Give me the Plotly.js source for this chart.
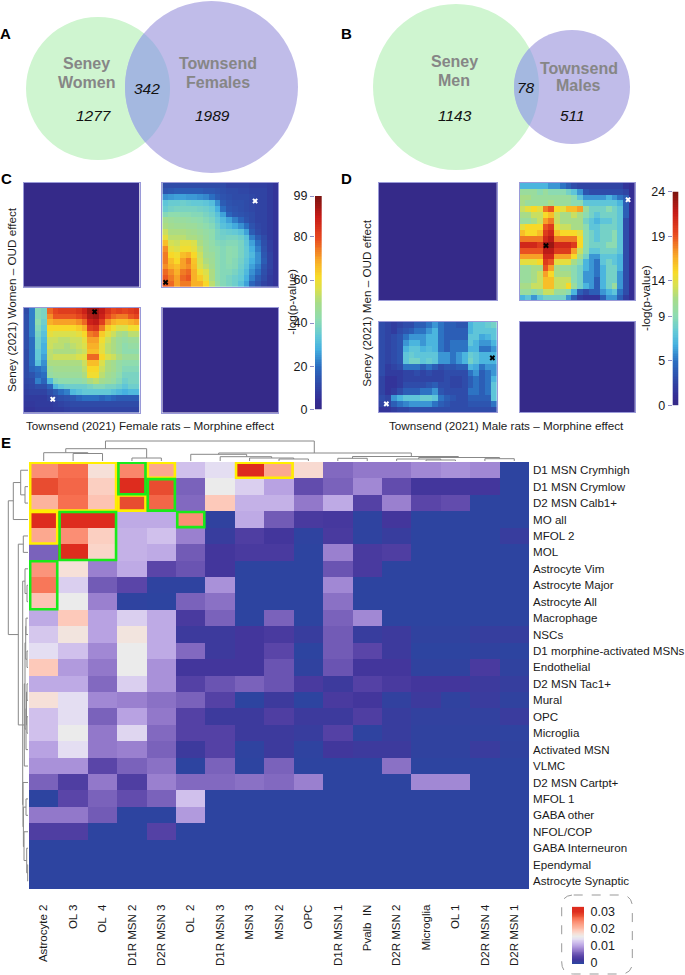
<!DOCTYPE html>
<html><head><meta charset="utf-8">
<script src="https://cdn.plot.ly/plotly-3.0.1.min.js"></script>
<style>html,body{margin:0;padding:0;background:#fff}#chart{width:685px;height:975px}</style>
</head><body><div id="chart"></div>
<script>
// ---------- Panel E data ----------
const rowLabels = ["D1 MSN Crymhigh","D1 MSN Crymlow","D2 MSN Calb1+","MO all","MFOL 2","MOL","Astrocyte Vim","Astrocyte Major","Astrocyte All","Macrophage","NSCs","D1 morphine-activated MSNs","Endothelial","D2 MSN Tac1+","Mural","OPC","Microglia","Activated MSN","VLMC","D2 MSN Cartpt+","MFOL 1","GABA other","NFOL/COP","GABA Interneuron","Ependymal","Astrocyte Synaptic"];
const colLabels = ["Astrocyte 2","OL 3","OL\u00A0 4","D1R MSN 2","D2R MSN 3","OL\u00A0 2","D1R MSN 3","MSN 3","MSN 2","OPC","D1R MSN 1","Pvalb\u00A0 IN","D2R MSN 2","Microglia","OL 1","D2R MSN 4","D2R MSN 1"];
// overlap scores, in thousandths
const overlapMilli = [
[24,26,17,24.5,22,12,14,30,22,17.5,6.5,7.5,7.5,8.5,9,8.5,0],
[28,26.5,18.5,30,28,6,15.5,13,10,4.5,6,8.5,4.5,2,2,2,0],
[21,26,19.5,28,26.5,6.5,19,11,11,7.5,10.5,3.5,8,4,4.5,0,0],
[30,30,30,10.5,10.5,24,0.3,10.5,5.5,2.5,2.3,0.2,2,0,0,0,0],
[22,24,18.5,11,12,8,1,3,2,0.2,2.5,0.2,1,0,0,0,1],
[6,30,18,11,10.5,5.5,2,2.5,2.5,0,8,2.5,3,0,0,0,0],
[23.5,17,8,10.5,4,5,2,0,0,0,5,2.5,0,0,0,0,0],
[25.5,13,5.5,4,0.2,0.2,9,0,0,0,8.5,0,0,0,0,0,0],
[19.5,15.5,8,0.2,0,6,7,0,0,0,7,0,0,0,0,0,0],
[10.5,19,10,13,10.5,2.5,6,0,6,0,6,8.5,0,0,0,0,0],
[12.5,16.5,10,16.5,10.5,1.5,1.5,2,2.5,1,5.5,1,1.5,0.3,0.3,0.8,0.8],
[14,12,8.5,15.5,10.5,6.5,1.5,2,4,0,5.5,4,1.5,0,0,0.3,0],
[19,9.5,7.5,15.5,9,2,2,2,5,0.3,5,2,2,0.3,0.3,2.5,0.3],
[10.5,10.5,6.5,13,9,3.5,5,6,5,2.5,1.5,3.5,2.5,2,2,1.5,0.8],
[17,14,8.5,8,7,6,3.5,0,1.5,0,2.5,2,0.5,1.5,0.3,1.2,0.3],
[12,14,6,10,7.5,3.5,1.5,1.5,3,1.5,1.5,3,1,0.5,0.5,0.5,1.2],
[12,15.5,7.5,13.5,6.5,3.5,3.5,1.5,1.5,1,3.5,0.2,1,0.3,0.3,0.3,0.2],
[10,14,7.5,8,6,1.5,3.5,0.2,1.5,0.2,1.8,1.5,1.5,0.3,0.3,1.2,0.3],
[9,9,4,6,7,0,6,0,6,0,0,0,7,0,0,0,0],
[6,3,7.5,3,8,6.5,6.5,7,6.5,8,0,0,0,8.5,8.5,0,0],
[0,4,6,4.5,6,12,0,0,0,0,0,0,0,0,0,0,0],
[7.5,7.5,5.5,0,0,9.5,0,0,0,0,0,0,0,0,0,0,0],
[3,3,0,0,3.5,0,0,0,0,0,0,0,0,0,0,0,0],
[0,0,0,0,0,0,0,0,0,0,0,0,0,0,0,0,0],
[0,0,0,0,0,0,0,0,0,0,0,0,0,0,0,0,0],
[0,0,0,0,0,0,0,0,0,0,0,0,0,0,0,0,0]];
// highlighted cells: first col, last col, first row, last row
const yellowBoxes = [[0,2,0,2],[3,3,2,2],[4,4,0,0],[0,0,3,4],[7,8,0,0]];
const greenBoxes = [[3,3,0,1],[4,4,1,2],[1,2,3,5],[5,5,3,3],[0,0,6,8]];
// dendrograms: low leaf, high leaf, merge height, base height low, base height high
const colDendro = [[1,2,8.5,1,1],[0,1.5,9.3,1,8.5],[3,4,4,1,1],[0.75,3.5,13.3,9.3,4],[2.1,9.2,21,13.3,9],[8,9,3,1,1],[7,8.5,4,1,3],[6,7.75,5.3,1,4],[5,6.9,7.7,1,5.3],[10,11,3.7,1,1],[15,16,3.3,1,1],[13,14,2,1,1],[12,13.5,3,1,2],[12.75,15.5,4.5,3,3.3],[10.5,14.1,5.5,3.7,4.5],[5.95,12.5,9,7.7,5.5]];
const rowDendro = [[1,2,4,1,1],[0,1.5,8.3,1,4],[0.75,3,15.7,8.3,1],[1.86,10,20.7,15.7,10.7],[4,5,5.7,1,1],[4.5,15.5,10.7,5.7,6.3],[7,8,2,1,1],[6,7.5,4,1,2],[6.75,15.5,6.3,4,6.3],[9,10,3,1,1],[11,12,2,1,1],[9.5,11.5,3.3,3,2],[13,14,2,1,1],[15,16,2,1,1],[13.5,15.5,2.5,2,2],[14.5,17,3,2.5,1],[10.5,15.75,4,3.3,3],[13,18,4.7,4,1],[15.5,20.35,6.3,4.7,6],[20,21,3,1,1],[24,25,1.3,1,1],[23,24.5,2.3,1,1.3],[22,23.75,5,1,2.3],[20.5,22.9,5.6,3,5],[19,21.7,6,1,5.6]];
const overlapTicks = [0,0.01,0.02,0.03];
const overlapTickText = ["0","0.01","0.02","0.03"];

// ---------- Panels C, D data: -log(p) per quadrant ----------
const womenUpRight = [
[12,12,12,12,12,12,12,12,12,12,12,10,10,10,10,9,9,9,8,6],
[14,15,16,16,16,16,16,15,15,14,13,12,12,11,11,10,10,10,8,6],
[24,25,26,26,25,25,24,23,20,16,14,13,12,12,12,11,10,10,8,6],
[33,35,35,36,35,34,34,33,31,24,16,14,13,13,12,11,10,10,8,6],
[35,37,38,38,38,38,37,36,34,28,20,15,14,13,12,11,10,10,8,6],
[40,42,42,41,41,40,40,38,36,32,26,18,15,14,13,12,10,10,8,6],
[48,46,45,45,44,43,42,40,38,34,30,26,22,18,14,12,10,10,8,6],
[50,48,47,47,46,46,44,42,40,36,32,30,27,24,20,14,11,10,8,6],
[54,50,50,50,49,48,46,44,42,38,36,35,34,32,26,16,12,10,8,6],
[58,52,52,52,50,50,48,45,42,38,37,38,38,36,32,22,16,12,8,6],
[66,55,54,58,58,56,50,46,43,40,39,40,40,38,33,26,20,13,9,6],
[72,58,56,60,60,58,52,47,44,42,40,42,41,38,34,28,22,14,9,6],
[74,62,60,66,68,62,54,48,46,42,40,42,41,38,34,30,24,15,10,6],
[74,66,62,70,74,65,55,50,47,42,40,42,40,37,33,28,24,16,10,6],
[72,68,66,70,72,66,56,52,48,42,40,41,40,36,32,26,22,14,10,6],
[76,72,68,74,76,68,60,56,50,42,40,40,38,35,30,24,20,13,9,6],
[78,74,70,76,78,68,64,58,50,42,40,38,36,34,28,22,16,12,8,6],
[78,76,70,74,74,68,68,62,52,44,40,38,36,32,26,18,14,10,8,6]];
const womenLowLeft = [
[12,22,40,38,76,80,82,82,82,84,88,94,94,90,84,80,82,80,82,84],
[13,22,40,38,72,78,78,78,78,80,84,92,94,88,80,76,74,74,78,80],
[13,22,42,36,68,70,70,70,70,72,76,88,90,82,72,68,66,66,68,70],
[13,22,40,34,62,62,62,62,62,64,68,82,84,74,64,60,56,56,60,60],
[13,22,38,32,58,56,56,56,56,58,62,74,76,64,58,54,50,48,52,52],
[13,20,36,30,54,54,52,52,54,54,58,70,70,60,54,50,46,44,46,46],
[13,20,36,28,54,52,52,50,52,54,56,68,68,58,52,50,46,42,44,44],
[12,20,34,28,52,50,50,50,50,52,54,66,66,58,52,50,46,42,42,42],
[12,20,34,26,52,54,54,54,54,56,58,76,76,62,56,54,50,46,46,46],
[12,20,32,24,50,50,50,50,50,50,54,66,66,56,50,48,44,42,42,42],
[12,18,20,22,46,48,48,48,48,48,52,62,62,54,50,48,44,40,40,40],
[12,14,18,20,44,46,46,46,46,46,50,60,60,52,48,46,42,38,38,38],
[11,12,22,18,30,40,42,42,42,42,44,50,52,48,46,44,40,36,38,38],
[10,11,13,13,18,30,34,36,36,36,36,38,40,40,38,38,36,33,36,36],
[9,10,10,10,13,16,20,22,30,32,34,34,34,34,34,32,30,28,30,30],
[8,8,8,8,10,12,13,14,15,18,20,20,20,18,20,18,16,16,16,16],
[7,7,8,8,8,9,10,11,12,12,12,12,12,12,12,12,12,12,12,12],
[6,6,7,7,7,8,8,9,10,10,10,10,10,10,10,10,10,10,10,10]];
const menUpRight = [
[7,7,7,7,7,6,6,5,4,3,2.5,2.5,2.5,2.5,2.5,2.5,2.5,2.5,1.5,1],
[11,11,11,10,11,10,10,10,9,8,6,3.5,3,3,3,3,3,3,2.5,1],
[12,12,11,11,11,11,11,11,11,10,8,6,6,6,6,7,6,5,4,1],
[12,11,11,11,11,12,11,11,11,10,10,8,8,8,8,8,8,7,4,1],
[13,14,15,14,18,19,15,14,16,16,17,11,9,9,9,10,9,8,4,1],
[12,12,13,13,15,16,13,12,12,13,12,10,9,8,9,9,9,8,4,1],
[11,11,12,13,17,18,13,12,12,12,12,9,8,7,8,8,9,8,3,1],
[14,15,15,15,19,20,14,13,13,12,12,10,8,8,9,9,9,8,3,1],
[16,15,15,16,20,21,16,15,15,15,14,10,9,8,9,9,10,8,3,1],
[18,18,18,18,21,22,18,18,18,18,15,10,9,8,9,9,10,8,3,1],
[21,21,21,20,23,23,21,21,21,20,15,10,9,9,9,10,10,8,3,1],
[19,19,19,19,22,22,20,20,20,17,13,10,8,8,9,9,9,8,3,1],
[17,17,17,17,21,21,17,17,17,15,12,9,6,6,8,8,8,7,3,1],
[14,14,14,15,20,19,14,14,14,12,10,7,6,5,8,9,8,7,3,1],
[11,11,12,12,19,17,12,11,11,10,9,7,6,5,7,9,9,7,3,1],
[11,11,12,13,17,15,12,12,12,10,9,6,6,5,7,9,9,6,3,1],
[11,11,12,13,16,16,13,13,13,10,9,6,6,4,7,9,9,6,3,1],
[12,12,13,13,16,16,13,13,15,11,9,7,6,4,7,9,11,6,3,1],
[11,11,10,11,13,13,11,11,10,7,4,3,4,4,6,7,8,5,3,1],
[7,8,6,8,9,9,9,9,6,4,2,1.5,1.5,1.5,4,6,6,4,2,1]];
const menLowLeft = [
[3,2.5,2,2.5,3,3,4,4,5,6,5,4,4,3.5,3.5,7,8,8,8.5,9],
[3,2.5,2,3,3.5,4,5,5,6,7,5,4,4,4,4,7,8,8,8,8],
[3,2.5,3,3.5,5,6,6,6,7,7,5,4,4,4,4,8,8,6.5,7,8],
[3,2.5,3,3.5,6,7,7,6,7,7,5,4,5,5,5,8,7,6,6,7],
[3,2.5,3,3.5,7,8,8,7,7.5,7,5,4,5,5,5,7,7,5,5,6],
[3,2.5,3,3.5,8,8.5,8,8,8,8,6,6,5,6,7,8.5,8,7,7,7],
[3,2.5,3,3.5,8,9,9,8,8.5,8,6,6,5,6,7,9,8,7,7,7],
[3,2,2.5,3,5,5,5,4,5,4,3,3.5,3.5,4,4,7,6.5,5,6,6],
[3,2,2,2,2.5,2.5,3,2.5,3,2.5,2.5,3,3,3,3,5,6,4,5,6],
[2.5,1.5,1.5,2,2.5,2.5,2.5,2.5,2.5,2.5,2.5,3,2.5,2.5,3,4,5,4,5,7],
[2.5,1.5,1.5,2,3,3,3,3,3.5,4,3,3,2.5,2.5,3,4,5,4,5,8],
[2.5,1.5,2,3,4,4,4,5,5,6,3.5,3,3,3,3,5,5,4,5,8],
[3,2.5,6,7,8,8,8,8.5,8.5,8,5,4,3.5,3,3,4,4,4,4,8],
[2.5,2.5,4,5,5.5,6,6,6,6,5,4,3.5,3,3,3,3.5,3.5,3.5,3.5,5],
[1.5,1.5,2,2.5,2.5,3,3,3,3,3,3,3,3,3,3,3,3,3,3,3]];
const emptyWomen = [[0.6,0.6],[0.6,0.6]];
const emptyMen = [[0.15,0.15],[0.15,0.15]];
const womenUpMarks = {blackX:[0.07],blackY:[16.7],whiteX:[15.5],whiteY:[2.66]};
const womenLowMarks = {blackX:[11.76],blackY:[0.19],whiteX:[4.54],whiteY:[15.2]};
const menUpMarks = {blackX:[4.07],blackY:[10.2],whiteX:[18.3],whiteY:[2.4]};
const menLowMarks = {blackX:[18.76],blackY:[5.5],whiteX:[0.75],whiteY:[13.1]};
const womenTicks = [0,20,40,60,80,99];
const menTickVals = [0,5,10,14,19,24];
const menTickText = ["0","5","9","14","19","24"];

// ---------- Panels A, B text ----------
const vennSets = ["Seney Women","Townsend Females","Seney Men","Townsend Males"];
const vennCounts = ["1277","342","1989","1143","78","511"];

// ---------- Styling / layout ----------
const W = 685, H = 975, FONT = '"Liberation Sans", Arial, sans-serif';
const jet = [[0,'#352a87'],[.04,'#342c94'],[.12,'#2f4aa8'],[.2,'#2a6cc0'],[.28,'#45b0e0'],[.34,'#62c8d8'],[.42,'#8edcb0'],[.5,'#a8dc88'],[.56,'#d8e050'],[.62,'#f8dc28'],[.7,'#f8a828'],[.8,'#e84a20'],[.9,'#c81c18'],[1,'#7a1410']];
const bwr = [[0,'#2d44a0'],[.067,'#43369c'],[.133,'#5a45a8'],[.2,'#7a62bb'],[.267,'#9a80cf'],[.333,'#b8a2e2'],[.4,'#d0c0ec'],[.467,'#e4def2'],[.517,'#ebebeb'],[.567,'#f6e0d8'],[.633,'#fdc9ba'],[.733,'#fca88f'],[.8,'#fb8e74'],[.867,'#f76f50'],[.933,'#e84c30'],[1,'#de2c1e']];
const vennGreen = '#cff5d0', vennPurple = '#c0bce9', vennLens = '#a4b8e0';
const circles = {aGreen:[98,88.5,72,71.5],aPurple:[211.5,87,86.5,86],bGreen:[456,87,83,83],bPurple:[572,87,58,57]};

const traces = [], shapes = [], annotations = [];
const layout = {width:W,height:H,margin:{l:0,r:0,t:0,b:0,pad:0},paper_bgcolor:'#fff',plot_bgcolor:'rgba(0,0,0,0)',showlegend:false,font:{family:FONT,size:12,color:'#111'},shapes,annotations};
let axN = 0;
function addAxes(px0,px1,py0,py1,xo,yo){
  axN++;
  const s = axN===1?'':axN;
  const hidden = {visible:false,fixedrange:true};
  layout['xaxis'+s] = Object.assign({},hidden,{domain:[px0/W,px1/W],anchor:'y'+s},xo);
  layout['yaxis'+s] = Object.assign({},hidden,{domain:[1-py1/H,1-py0/H],anchor:'x'+s},yo);
  return {x:'x'+s,y:'y'+s};
}
// Full-page overlay in pixel units for the Venn discs and free text
const page = addAxes(0,W,0,H,{range:[0,W]},{range:[H,0]});
function txt(px,py,text,o){
  annotations.push(Object.assign({xref:'paper',yref:'paper',x:px/W,y:1-py/H,text,showarrow:false,xanchor:'center',yanchor:'middle',font:{family:FONT,size:12,color:'#111'}},o||{}));
}
function disc(c,fill){
  shapes.push({type:'circle',xref:page.x,yref:page.y,x0:c[0]-c[2],x1:c[0]+c[2],y0:c[1]-c[3],y1:c[1]+c[3],fillcolor:fill,line:{width:0},layer:'below'});
}
function lens(a,b){
  const inE=(p,e)=>((p[0]-e[0])/e[2])**2+((p[1]-e[1])/e[3])**2<=1, pts=[];
  for(let i=0;i<720;i++){const t=i*Math.PI/360;
    const pa=[a[0]+a[2]*Math.cos(t),a[1]+a[3]*Math.sin(t)], pb=[b[0]+b[2]*Math.cos(t),b[1]+b[3]*Math.sin(t)];
    if(inE(pa,b))pts.push(pa); if(inE(pb,a))pts.push(pb);}
  const cx=pts.reduce((s,p)=>s+p[0],0)/pts.length, cy=pts.reduce((s,p)=>s+p[1],0)/pts.length;
  pts.sort((p,q)=>Math.atan2(p[1]-cy,p[0]-cx)-Math.atan2(q[1]-cy,q[0]-cx));
  shapes.push({type:'path',xref:page.x,yref:page.y,path:'M'+pts.map(p=>p[0].toFixed(2)+','+p[1].toFixed(2)).join('L')+'Z',fillcolor:vennLens,line:{width:0},layer:'below'});
}
disc(circles.aGreen,vennGreen);disc(circles.aPurple,vennPurple);lens(circles.aGreen,circles.aPurple);
disc(circles.bGreen,vennGreen);disc(circles.bPurple,vennPurple);lens(circles.bGreen,circles.bPurple);
const setFont={family:FONT,size:16,color:'#868686',weight:700}, numFont={family:FONT,size:15.5,color:'#111',style:'italic'};
function twoLine(s){const i=s.indexOf(' ');return [s.slice(0,i),s.slice(i+1)];}
[[0,86,63,82],[1,217.5,63,82],[2,454,62,81],[3,578.5,68,86]].forEach(([k,x,y1,y2])=>{
  const p=twoLine(vennSets[k]); txt(x,y1,p[0],{font:setFont}); txt(x,y2,p[1],{font:setFont});
});
[[0,94,115],[1,146.6,89],[2,212,115],[3,455,116],[4,526,87],[5,572,116]].forEach(([k,x,y])=>txt(x,y,vennCounts[k],{font:numFont}));
[['A',5,33],['B',346,33],['C',6,178],['D',346,179],['E',6,442]].forEach(([t,x,y])=>txt(x,y,t,{font:{family:FONT,size:15,color:'#000',weight:700}}));

// Rank-rank quadrants
function quad(z,px0,px1,py0,py1,zmax,marks){
  const a = addAxes(px0,px1,py0,py1,
    {visible:true,showticklabels:false,ticks:'',showgrid:false,zeroline:false,showline:true,mirror:true,linecolor:'#9a9ad8',linewidth:1,range:[-0.5,z[0].length-0.5]},
    {visible:true,showticklabels:false,ticks:'',showgrid:false,zeroline:false,showline:true,mirror:true,linecolor:'#9a9ad8',linewidth:1,range:[z.length-0.5,-0.5]});
  traces.push({type:'heatmap',z,xaxis:a.x,yaxis:a.y,colorscale:jet,zmin:0,zmax,showscale:false,hoverinfo:'skip'});
  if(marks){
    traces.push({type:'scatter',mode:'markers',x:marks.blackX,y:marks.blackY,xaxis:a.x,yaxis:a.y,marker:{symbol:'x',size:5,color:'#000'},hoverinfo:'skip'});
    traces.push({type:'scatter',mode:'markers',x:marks.whiteX,y:marks.whiteY,xaxis:a.x,yaxis:a.y,marker:{symbol:'x',size:5,color:'#fff'},hoverinfo:'skip'});
  }
}
quad(emptyWomen,23.5,139.5,182.7,287,99);
quad(womenUpRight,162.3,278.3,182.7,287,99,womenUpMarks);
quad(womenLowLeft,23.5,139.5,307.7,412.7,99,womenLowMarks);
quad(emptyWomen,162.3,278.3,307.7,412.7,99);
quad(emptyMen,379,496.7,182.7,300.3,24);
quad(menUpRight,519.7,635,182.7,300.3,24,menUpMarks);
quad(menLowLeft,379,496.7,321.7,412.3,24,menLowMarks);
quad(emptyMen,519.7,635,321.7,412.3,24);

// Colour keys drawn on their own value axis
function ramp(lo,hi,n){const v=[];for(let i=0;i<=n;i++)v.push(lo+(hi-lo)*i/n);return v;}
function colorKey(px0,px1,py0,py1,lo,hi,zmin,zmax,scale,yo){
  const a=addAxes(px0,px1,py0,py1,{range:[0,1]},Object.assign({visible:true,range:[lo,hi],showgrid:false,zeroline:false,showline:false,tickfont:{family:FONT,size:12.5,color:'#1a1a1a'}},yo));
  const ys=ramp(lo,hi,120);
  traces.push({type:'heatmap',x:[0,1],y:ys,z:ys.map(v=>[v,v]),xaxis:a.x,yaxis:a.y,colorscale:scale,zmin,zmax,showscale:false,hoverinfo:'skip'});
}
colorKey(315,321.7,196,409.3,0,99,0,99,jet,{side:'left',ticks:'outside',ticklen:4,tickcolor:'#8f8fc8',tickvals:womenTicks});
colorKey(672.7,678.3,191.7,405.3,0,24,0,24,jet,{side:'left',ticks:'outside',ticklen:4,tickcolor:'#8f8fc8',tickvals:menTickVals,ticktext:menTickText});
colorKey(572,584,906.7,964,-0.0007,0.0329,0,0.03,bwr,{side:'right',ticks:'outside',ticklen:3,tickcolor:'rgba(0,0,0,0)',tickvals:overlapTicks,ticktext:overlapTickText});

// Axis titles
const capFont={family:FONT,size:11.7,color:'#1a1a1a'};
txt(150,425,'Townsend (2021) Female rats \u2013 Morphine effect',{font:capFont});
txt(506.7,425,'Townsend (2021) Male rats \u2013 Morphine effect',{font:capFont});
txt(11,300,'Seney (2021) Women \u2013 OUD effect',{font:capFont,textangle:-90});
txt(366.7,303,'Seney (2021) Men \u2013 OUD effect',{font:capFont,textangle:-90});
txt(292,301.7,'-log(p-value)',{font:capFont,textangle:-90});
txt(646,298,'-log(p-value)',{font:capFont,textangle:-90});

// Overlap heatmap
const colIdx=colLabels.map((_,i)=>i), rowIdx=rowLabels.map((_,i)=>i);
const heat=addAxes(29,529,462,889.3,
  {visible:true,range:[-0.5,colLabels.length-0.5],tickvals:colIdx,ticktext:colLabels,tickangle:-90,side:'bottom',showgrid:false,zeroline:false,showline:false,ticks:'',ticklabelstandoff:12,tickfont:{family:FONT,size:11.5,color:'#1a1a1a'}},
  {visible:true,range:[rowLabels.length-0.5,-0.5],tickvals:rowIdx,ticktext:rowLabels,side:'right',showgrid:false,zeroline:false,showline:false,ticks:'',ticklabelstandoff:3,tickfont:{family:FONT,size:11.6,color:'#1a1a1a'}});
traces.push({type:'heatmap',x:colIdx,y:rowIdx,z:overlapMilli.map(r=>r.map(v=>v/1000)),xaxis:heat.x,yaxis:heat.y,colorscale:bwr,zmin:0,zmax:0.03,showscale:false,hoverinfo:'skip'});
function boxes(list,color){list.forEach(([c0,c1,r0,r1])=>{
  shapes.push({type:'rect',xref:heat.x,yref:heat.y,x0:c0-0.46,x1:c1+0.46,y0:r0-0.46,y1:r1+0.46,line:{color,width:2.6},layer:'above'});
});}
boxes(yellowBoxes,'#ffee00');boxes(greenBoxes,'#19ea19');

// Dendrograms
function uPath(list,horizontal){
  const a=[],b=[];
  list.forEach(([l,r,t,bl,br])=>{a.push(l,l,r,r,null);b.push(bl,t,t,br,null);});
  return horizontal?{x:a,y:b}:{x:b,y:a};
}
const dTop=addAxes(29,529,440,462,{range:[-0.5,colLabels.length-0.5]},{range:[0,22]});
traces.push(Object.assign({type:'scatter',mode:'lines',xaxis:dTop.x,yaxis:dTop.y,line:{color:'#888',width:1},hoverinfo:'skip',connectgaps:false},uPath(colDendro,true)));
const dLeft=addAxes(0,29,462,889.3,{range:[29,0]},{range:[rowLabels.length-0.5,-0.5]});
traces.push(Object.assign({type:'scatter',mode:'lines',xaxis:dLeft.x,yaxis:dLeft.y,line:{color:'#888',width:1},hoverinfo:'skip',connectgaps:false},uPath(rowDendro,false)));

// Dashed key frame
const kf={x0:561.7,x1:632.3,y0:895,y1:974,r:12};
shapes.push({type:'path',xref:page.x,yref:page.y,path:`M${kf.x0+kf.r},${kf.y0}L${kf.x1-kf.r},${kf.y0}Q${kf.x1},${kf.y0} ${kf.x1},${kf.y0+kf.r}L${kf.x1},${kf.y1-kf.r}Q${kf.x1},${kf.y1} ${kf.x1-kf.r},${kf.y1}L${kf.x0+kf.r},${kf.y1}Q${kf.x0},${kf.y1} ${kf.x0},${kf.y1-kf.r}L${kf.x0},${kf.y0+kf.r}Q${kf.x0},${kf.y0} ${kf.x0+kf.r},${kf.y0}Z`,line:{color:'#999',width:1,dash:'dash'}});

Plotly.newPlot('chart',traces,layout,{displayModeBar:false,staticPlot:true});
</script></body></html>
